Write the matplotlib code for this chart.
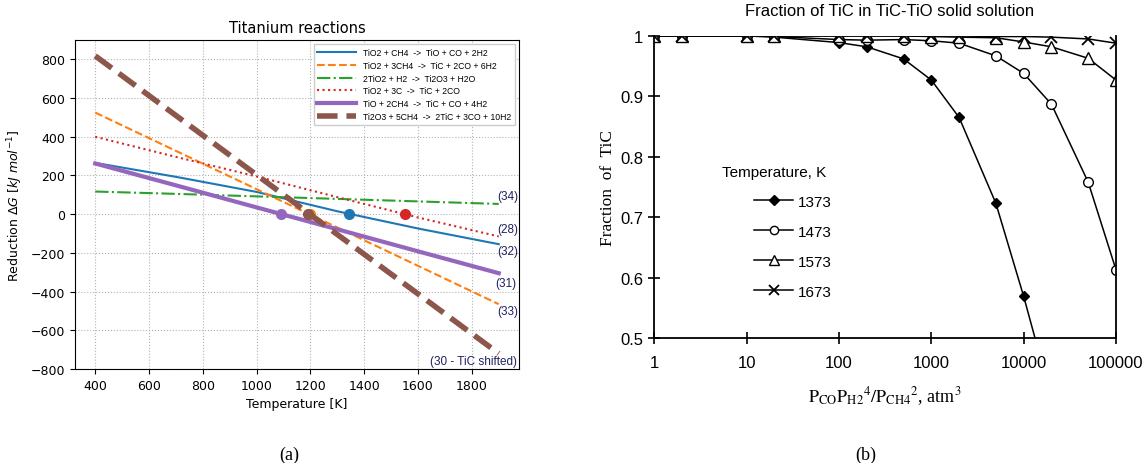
import matplotlib
matplotlib.use('Agg')
import matplotlib.pyplot as plt
import numpy as np
from matplotlib.lines import Line2D
from matplotlib.ticker import FixedLocator, FuncFormatter, NullLocator

# ---- panel (a) data: reaction Gibbs energy vs temperature
temps = [400, 700, 1000, 1300, 1600, 1900]
dg_tio = [265, 193, 115, 15, -74, -155]            # TiO2 + CH4 -> TiO ...
dg_tic_ch4 = [525, 327, 129, -69, -267, -465]      # TiO2 + 3CH4 -> TiC ...
dg_ti2o3 = [117, 105, 92, 79, 66, 53]              # 2TiO2 + H2 -> Ti2O3 ...
dg_tic_c = [400, 296, 195, 88, -17, -115]          # TiO2 + 3C -> TiC ...
dg_tio_tic = [262, 149, 35, -78, -192, -305]       # TiO + 2CH4 -> TiC ...
dg_ti2o3_tic = [818, 510, 203, -105, -412, -720]   # Ti2O3 + 5CH4 -> 2TiC ...

labels_a = ['TiO2 + CH4  ->  TiO + CO + 2H2',
            'TiO2 + 3CH4  ->  TiC + 2CO + 6H2',
            '2TiO2 + H2  ->  Ti2O3 + H2O',
            'TiO2 + 3C  ->  TiC + 2CO',
            'TiO + 2CH4  ->  TiC + CO + 4H2',
            'Ti2O3 + 5CH4  ->  2TiC + 3CO + 10H2']
zero_t = [1345, 1200, None, 1553, 1090, 1190]
eq_tags = ['(32)', '(33)', '(34)', '(28)', '(31)', '(30 - TiC shifted)']
tag_pos = [(1893, -189), (1893, -500), (1893, 94), (1893, -77), (1888, -356), (1967, -757)]

# ---- panel (b) data: fraction of TiC vs gas ratio
ratio = [1, 2, 10, 20, 100, 200, 500, 1000, 2000, 5000, 10000, 20000, 50000, 100000]
frac_1373 = [1, 1, 1, 0.998, 0.989, 0.982, 0.962, 0.927, 0.865, 0.723, 0.569, 0.40]
frac_1473 = [1, 1, 1, 0.999, 0.994, 0.993, 0.994, 0.992, 0.988, 0.967, 0.938, 0.887, 0.758, 0.613]
frac_1573 = [1, 1, 1, 1, 1, 1, 1, 0.999, 0.998, 0.997, 0.99, 0.982, 0.963, 0.927]
frac_1673 = [1, 1, 1, 1, 1, 1, 1, 1, 1, 0.999, 0.999, 0.998, 0.995, 0.988]
temp_labels = ['1373', '1473', '1573', '1673']

fig = plt.figure(figsize=(11.44, 4.64), dpi=100)

# ================= (a)
ax = fig.add_axes((0.0656, 0.2026, 0.388, 0.709))
colors = ['#1f77b4', '#ff7f0e', '#2ca02c', '#d62728', '#9467bd', '#8c564b']
styles = ['-', '--', '-.', ':', '-', '--']
widths = [1.5, 1.5, 1.5, 1.5, 3, 4]
series = [dg_tio, dg_tic_ch4, dg_ti2o3, dg_tic_c, dg_tio_tic, dg_ti2o3_tic]

for vals, c, ls, lw, lab, t0 in zip(series, colors, styles, widths, labels_a, zero_t):
    ax.plot(temps, vals, color=c, ls=ls, lw=lw, label=lab)
    if t0 is not None:
        ax.plot(t0, 0, 'o', color=c, ms=7)

for tag, (tx, ty) in zip(eq_tags, tag_pos):
    ax.text(tx, ty, tag, ha='right' if tag.startswith('(30') else 'left', va='center',
            fontsize=8.5, color='#202060', family='Liberation Sans')

ax.set_xlim(325, 1975)
ax.set_ylim(-800, 900)
ax.set_xticks(range(400, 1801, 200))
ax.set_yticks(range(-800, 801, 200))
ax.tick_params(labelsize=9)
ax.grid(True, ls=':', color='0.7', lw=0.8)
ax.set_title('Titanium reactions', fontsize=10.5)
ax.set_xlabel('Temperature [K]', fontsize=9)
ax.set_ylabel(r'Reduction $\Delta G$ $[kJ\ mol^{-1}]$', fontsize=9)
ax.legend(loc='upper right', prop={'family': 'Liberation Sans', 'size': 6.2},
          handlelength=4.5, labelspacing=0.45, borderpad=0.4, framealpha=1, fancybox=False)

# ================= (b)
bx = fig.add_axes((0.572, 0.2694, 0.4035, 0.651))
markers = [dict(marker='D', mfc='black', ms=5.5),
           dict(marker='o', mfc='white', ms=7),
           dict(marker='^', mfc='white', ms=8),
           dict(marker='x', mfc='none', ms=8, mew=1.3)]
fracs = [frac_1373, frac_1473, frac_1573, frac_1673]
handles = []
for f, m, lab in zip(fracs, markers, temp_labels):
    bx.plot(ratio[:len(f)], f, color='black', lw=1.1, mec='black', **m)
    handles.append(Line2D([], [], color='black', lw=1.1, mec='black', **m))

bx.set_xscale('log')
bx.set_xlim(1, 100000)
bx.set_ylim(0.5, 1)
bx.xaxis.set_major_locator(FixedLocator([1, 10, 100, 1000, 10000, 100000]))
bx.xaxis.set_major_formatter(FuncFormatter(lambda v, p: f'{int(v)}'))
bx.xaxis.set_minor_locator(NullLocator())
bx.set_yticks([0.5, 0.6, 0.7, 0.8, 0.9, 1.0])
bx.yaxis.set_major_formatter(FuncFormatter(lambda v, p: f'{v:g}'))
bx.tick_params(direction='inout', length=9, width=1.2, labelsize=12, labelfontfamily='Liberation Sans')
bx.tick_params(axis='x', pad=8)
for s in bx.spines.values():
    s.set_linewidth(1.3)
bx.spines['top'].set_visible(False)

bx.set_ylabel('Fraction  of  TiC', family='Liberation Serif', fontsize=12.5, labelpad=3)
bx.set_xlabel(r'$\mathrm{P_{CO}P_{H2}}^{4}/\mathrm{P_{CH4}}^{2}$, atm$^{3}$',
              family='Liberation Serif', fontsize=13, math_fontfamily='stix', labelpad=10)

fig.text(890 / 1144, 1 - 12 / 464, 'Fraction of TiC in TiC-TiO solid solution',
         ha='center', va='center', fontsize=12, family='Liberation Sans')
fig.text(722 / 1144, 1 - 173 / 464, 'Temperature, K', ha='left', va='center',
         fontsize=11, family='Liberation Sans')
fig.legend(handles, temp_labels, loc='upper left', bbox_to_anchor=(746 / 1144, 1 - 188 / 464),
           frameon=False, borderpad=0, handlelength=2.6, handletextpad=0.3, labelspacing=1.05,
           markerscale=0.85, prop={'family': 'Liberation Sans', 'size': 11})

# captions
fig.text(289 / 1144, 1 - 455 / 464, '(a)', ha='center', va='center', fontsize=13, family='Liberation Serif')
fig.text(866 / 1144, 1 - 455 / 464, '(b)', ha='center', va='center', fontsize=13, family='Liberation Serif')

fig.savefig('out.png', dpi=100)
